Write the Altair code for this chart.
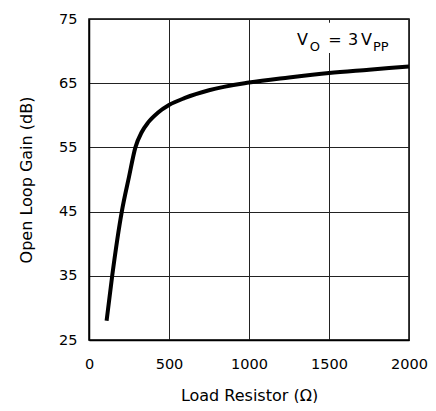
import altair as alt
import pandas as pd

# Curve
resistance = [110, 145, 205, 250, 290, 330, 370, 430, 500, 600, 750, 1000, 1250, 1500, 1750, 2000]
gain = [28, 35, 45, 50.4, 55, 57.4, 58.9, 60.4, 61.6, 62.7, 63.9, 65.1, 65.9, 66.6, 67.1, 67.6]

x_ticks = [0, 500, 1000, 1500, 2000]
y_ticks = [25, 35, 45, 55, 65, 75]

# Annotation pieces "V_O = 3 V_PP" (data coordinates)
ann_text = ["V", "O", "=", "3", "V", "PP"]
ann_x = [1300, 1380, 1495, 1619, 1700, 1775]
ann_y = [70.95, 70.0, 70.95, 70.95, 70.95, 70.0]
ann_size = [16, 13, 16, 16, 16, 13]

# white box behind annotation
box_x = [1250]
box_x2 = [1960]
box_y = [69.7]
box_y2 = [74.4]

df = pd.DataFrame({"R": resistance, "G": gain})
ann = pd.DataFrame({"t": ann_text, "x": ann_x, "y": ann_y, "s": ann_size})
box = pd.DataFrame({"x": box_x, "x2": box_x2, "y": box_y, "y2": box_y2})

FONT = "DejaVu Sans"

xscale = alt.Scale(domain=[0, 2000], nice=False, zero=False)
yscale = alt.Scale(domain=[25, 75], nice=False, zero=False)

xaxis = alt.Axis(values=x_ticks, title="Load Resistor (Ω)", grid=True, ticks=False, format="d",
                 labelPadding=17, labelFontSize=14.5, titleFontSize=16,
                 titleFontWeight="normal", titleY=47, labelFlush=False)
yaxis = alt.Axis(values=y_ticks, title="Open Loop Gain (dB)", grid=True, ticks=False, format="d",
                 labelPadding=12, labelFontSize=14.5, titleFontSize=16,
                 titleFontWeight="normal", titleX=-55, labelFlush=False)

line = alt.Chart(df).mark_line(color="black", strokeWidth=4, interpolate="monotone").encode(
    x=alt.X("R:Q", scale=xscale, axis=xaxis),
    y=alt.Y("G:Q", scale=yscale, axis=yaxis),
)

rect = alt.Chart(box).mark_rect(color="white").encode(
    x=alt.X("x:Q", scale=xscale), x2="x2:Q",
    y=alt.Y("y:Q", scale=yscale), y2="y2:Q",
)

text = alt.Chart(ann).mark_text(align="left", baseline="alphabetic", color="black", font=FONT).encode(
    x=alt.X("x:Q", scale=xscale),
    y=alt.Y("y:Q", scale=yscale),
    text="t:N",
    size=alt.Size("s:Q", scale=None, legend=None),
)

top_rule = alt.Chart(pd.DataFrame({"a": [0]})).mark_rule(color="black", strokeWidth=1.5).encode(
    x=alt.value(-81), x2=alt.value(339), y=alt.value(-15)
)

chart = alt.layer(rect, text, line, top_rule).properties(
    width=320, height=321,
    autosize=alt.AutoSizeParams(type="none"),
    padding={"left": 81, "top": 11, "right": 19, "bottom": 63},
    background="white",
).configure_axis(
    gridColor="#222222", gridWidth=1, gridOpacity=1,
    domainColor="black", domainWidth=1.5,
    labelColor="black", titleColor="black",
    labelFont=FONT, titleFont=FONT,
).configure_view(
    stroke="black", strokeWidth=1.5
)

chart.save("out.html", embed_options={"renderer": "svg", "actions": False})
